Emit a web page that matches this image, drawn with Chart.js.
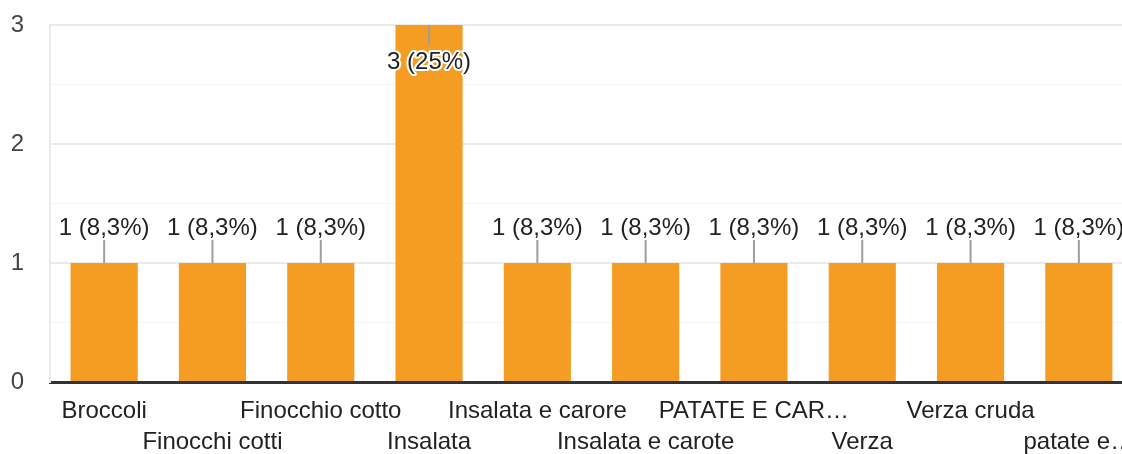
<!DOCTYPE html>
<html>
<head>
<meta charset="utf-8">
<script src="https://cdn.jsdelivr.net/npm/chart.js@4"></script>
<style>
html,body{margin:0;padding:0;background:#fff;overflow:hidden;}
#wrap{position:absolute;left:0;top:0;width:1133px;height:454px;}
</style>
</head>
<body>
<div id="wrap"><canvas id="c" width="1133" height="454"></canvas></div>
<script>
const categories = ['Broccoli','Finocchi cotti','Finocchio cotto','Insalata','Insalata e carore','Insalata e carote','PATATE E CAR…','Verza','Verza cruda','patate e…'];
const counts = [1,1,1,3,1,1,1,1,1,1];
const percentLabels = ['8,3%','8,3%','8,3%','25%','8,3%','8,3%','8,3%','8,3%','8,3%','8,3%'];
const yTicks = [0,1,2,3];

const FONT = '"Liberation Sans", Arial, sans-serif';

const annot = {
  id:'annot',
  afterDatasetsDraw(chart){
    const ctx = chart.ctx;
    const meta = chart.getDatasetMeta(0);
    const area = chart.chartArea;
    ctx.save();
    ctx.font = '24px ' + FONT;
    ctx.textAlign = 'center';
    ctx.textBaseline = 'middle';
    meta.data.forEach((bar,i)=>{
      const txt = counts[i] + ' (' + percentLabels[i] + ')';
      const x = bar.x, top = bar.y;
      ctx.strokeStyle = '#9e9e9e';
      ctx.lineWidth = 2;
      ctx.beginPath();
      let ty;
      if (top - area.top > 45) {
        ctx.moveTo(x, top); ctx.lineTo(x, top - 23);
        ty = top - 35;
      } else {
        ctx.moveTo(x, top); ctx.lineTo(x, top + 20);
        ty = top + 37;
      }
      ctx.stroke();
      ctx.lineWidth = 4;
      ctx.strokeStyle = '#fff';
      ctx.lineJoin = 'round';
      ctx.strokeText(txt, x, ty);
      ctx.fillStyle = '#222';
      ctx.fillText(txt, x, ty);
    });
    ctx.restore();
  }
};

new Chart(document.getElementById('c'), {
  type:'bar',
  data:{
    labels: categories,
    datasets:[{data: counts, backgroundColor:'#f59c22', barPercentage:0.62, categoryPercentage:1}]
  },
  options:{
    responsive:false,
    animation:false,
    layout:{padding:{top:25,right:0,left:0,bottom:0}},
    plugins:{legend:{display:false},tooltip:{enabled:false}},
    scales:{
      x:{
        grid:{display:false},
        border:{color:'#333',width:3},
        afterFit:(s)=>{ s.height = 72; s.paddingLeft = 0; s.paddingRight = 0; },
        ticks:{
          autoSkip:false,maxRotation:0,minRotation:0,
          color:'#222',
          font:{family:FONT,size:24,lineHeight:1.3},
          padding:6,
          callback:(v,i)=> i%2===0 ? [categories[i],''] : ['',categories[i]]
        }
      },
      y:{
        min:0,max:3,
        afterFit:(s)=>{ s.width = 50; s.paddingTop = 0; s.paddingBottom = 0; },
        afterBuildTicks:(s)=>{ s.ticks=[0,0.5,1,1.5,2,2.5,3].map(v=>({value:v})); },
        grid:{
          color:(c)=> Number.isInteger(c.tick.value) ? '#ebebeb' : '#f4f4f4',
          lineWidth:(c)=> Number.isInteger(c.tick.value) ? 2 : 1,
          drawTicks:false
        },
        border:{color:'#ebebeb',width:2},
        ticks:{
          color:'#444',
          font:{family:FONT,size:24},
          padding:26,
          callback:(v)=> yTicks.includes(v) ? String(v) : ''
        }
      }
    }
  },
  plugins:[annot]
});
</script>
</body>
</html>
